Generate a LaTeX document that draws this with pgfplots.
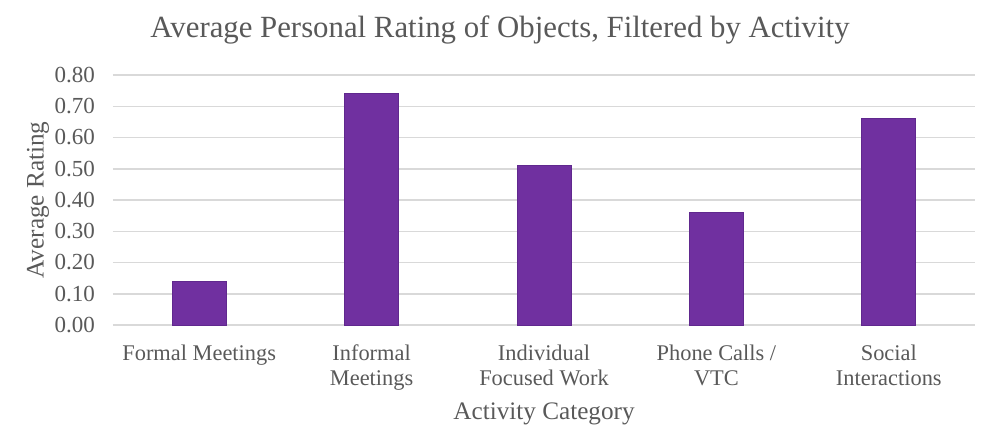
\documentclass[border=0pt]{standalone}
\usepackage{fontspec}
\setmainfont{Liberation Serif}
\usepackage{pgfplots}
\pgfplotsset{compat=1.18}
\definecolor{txt}{HTML}{595959}
\definecolor{gridc}{HTML}{D9D9D9}
\definecolor{barc}{HTML}{7030A0}
\definecolor{bare}{HTML}{60288E}
\begin{document}
\begin{tikzpicture}[every node/.style={font=\rmfamily}]
\useasboundingbox (-56.5pt,-58pt) rectangle (443.5pt,162.5pt);
\begin{axis}[
  at={(0,0)}, anchor=south west,
  scale only axis, width=431pt, height=125pt,
  xmin=-0.5, xmax=4.5, ymin=0, ymax=0.8,
  ytick={0,0.1,...,0.8},
  xtick={0,1,2,3,4},
  xticklabels={Formal Meetings,Informal\\Meetings,Individual\\Focused Work,Phone Calls /\\VTC,Social\\Interactions},
  xticklabel style={align=center, anchor=north, yshift=-6.5pt, font=\rmfamily\fontsize{11.2}{12.5}\selectfont, text=txt},
  yticklabel style={font=\rmfamily\fontsize{11.5}{12}\selectfont, text=txt, xshift=-5.5pt},
  /pgf/number format/assume math mode=true,
  yticklabel={\pgfmathprintnumber[fixed,fixed zerofill,precision=2]{\tick}},
  axis line style={draw=none},
  axis x line*=bottom,
  x axis line style={draw=gridc, line width=0.75pt},
  major tick length=0pt,
  ymajorgrids, grid style={gridc, line width=0.75pt},
  ylabel={Average Rating},
  ylabel style={font=\rmfamily\fontsize{12.6}{13}\selectfont, text=txt, at={(axis description cs:-0.087,0.5)}, anchor=center},
  xlabel={Activity Category},
  xlabel style={font=\rmfamily\fontsize{12.6}{13}\selectfont, text=txt, at={(axis description cs:0.5,-0.356)}, anchor=center},
  title={Average Personal Rating of Objects, Filtered by Activity},
  title style={font=\rmfamily\fontsize{15.4}{17}\selectfont, text=txt, at={(axis description cs:0.449,1.132)}, anchor=center},
  ybar, bar width=27pt,
  clip=false,
]
\addplot[fill=barc, draw=bare, line width=0.4pt] coordinates {(0,0.14) (1,0.74) (2,0.51) (3,0.36) (4,0.66)};
\end{axis}
\end{tikzpicture}
\end{document}
